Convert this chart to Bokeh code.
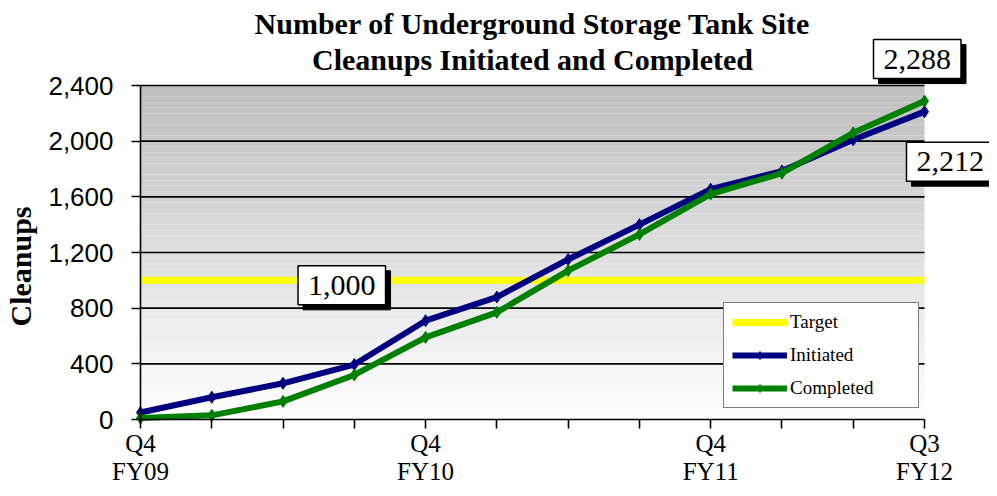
import math
import numpy as np
from bokeh.plotting import figure
from bokeh.models import Range1d, FixedTicker, Label, Legend
from bokeh.embed import file_html
from bokeh.resources import INLINE

# ---- data ----
quarters = ["Q4\nFY09", "Q1\nFY10", "Q2\nFY10", "Q3\nFY10", "Q4\nFY10", "Q1\nFY11",
            "Q2\nFY11", "Q3\nFY11", "Q4\nFY11", "Q1\nFY12", "Q2\nFY12", "Q3\nFY12"]
shown_labels = [0, 4, 8, 11]
initiated = [50, 160, 260, 395, 710, 880, 1150, 1400, 1655, 1785, 2010, 2212]
completed = [10, 30, 130, 320, 590, 770, 1070, 1330, 1620, 1770, 2060, 2288]
target = [1000] * len(quarters)
y_ticks = [0, 400, 800, 1200, 1600, 2000, 2400]
title_text = "Number of Underground Storage Tank Site\nCleanups Initiated and Completed"
y_title = "Cleanups"

x = list(range(len(quarters)))
n_last = len(quarters) - 1
y_max = y_ticks[-1]

SERIF = "Liberation Serif"
SANS = "Liberation Sans"

# ---- layout (pixels) ----
W, H = 989, 488
PX_LEFT, PX_RIGHT, PX_TOP, PX_BOTTOM = 140, 924, 85, 419   # plot-area box
sx = (PX_RIGHT - PX_LEFT) / n_last
sy = (PX_BOTTOM - PX_TOP) / y_max
x_range = Range1d(-PX_LEFT / sx, n_last + (W - PX_RIGHT) / sx)
y_range = Range1d(-(H - PX_BOTTOM) / sy, y_max + PX_TOP / sy)

p = figure(width=W, height=H, output_backend="svg", toolbar_location=None,
           title=None, x_range=x_range, y_range=y_range,
           min_border=0, min_border_left=0, min_border_right=0,
           min_border_top=0, min_border_bottom=0, outline_line_color=None,
           background_fill_color="white", border_fill_color="white")
p.xgrid.visible = False
p.ygrid.visible = False

# gradient plot-area background (style only)
n_bands = 60
edges = np.linspace(0, y_max, n_bands + 1)
cols = []
for i in range(n_bands):
    t = (i + 0.5) / n_bands
    v = int(round(255 - (255 - 190) * t))
    cols.append("#%02x%02x%02x" % (v, v, v))
p.quad(left=0, right=n_last, bottom=edges[:-1], top=edges[1:],
       fill_color=cols, line_color=None)

# horizontal grid lines
p.segment(x0=0, x1=n_last, y0=y_ticks[1:], y1=y_ticks[1:],
          line_color="black", line_width=1.6)

# series
r_t = p.line(x, target, line_color="#ffff00", line_width=7)
r_i = p.line(x, initiated, line_color="#000080", line_width=6)
s_i = p.scatter(x, initiated, marker="diamond", size=12, color="#000080")
r_c = p.line(x, completed, line_color="#008000", line_width=6)
s_c = p.scatter(x, completed, marker="diamond", size=12, color="#008000")

legend = Legend(items=[("Target", [r_t]), ("Initiated", [r_i, s_i]),
                       ("Completed", [r_c, s_c])],
                location=(723, H - 408), padding=8, spacing=11, glyph_width=55,
                glyph_height=20, label_height=20, label_standoff=3,
                label_width=120, margin=0,
                label_text_font=SERIF, label_text_font_size="19px",
                label_text_color="black",
                border_line_color="black", border_line_width=1.5,
                background_fill_color="white", background_fill_alpha=1)
p.add_layout(legend)

# axes
p.yaxis.fixed_location = 0
p.yaxis.bounds = (0, y_max)
p.yaxis.ticker = FixedTicker(ticks=y_ticks)
p.yaxis.major_label_overrides = {t: f"{t:,}" for t in y_ticks}
p.yaxis.major_label_text_font = SANS
p.yaxis.major_label_text_font_size = "26px"
p.yaxis.major_label_text_color = "black"
p.yaxis.major_tick_out = 9
p.yaxis.major_tick_in = 0
p.yaxis.minor_tick_line_color = None
p.yaxis.axis_line_color = "black"
p.yaxis.axis_line_width = 1.6
p.yaxis.major_tick_line_width = 1.6
p.yaxis.major_label_standoff = 18

p.xaxis.fixed_location = 0
p.xaxis.bounds = (0, n_last)
p.xaxis.ticker = FixedTicker(ticks=x)
p.xaxis.major_label_overrides = {i: (quarters[i] if i in shown_labels else "") for i in x}
p.xaxis.major_label_text_font = SERIF
p.xaxis.major_label_text_font_size = "25px"
p.xaxis.major_label_text_color = "black"
p.xaxis.major_label_text_line_height = 1.05
p.xaxis.major_tick_out = 9
p.xaxis.major_tick_in = 0
p.xaxis.minor_tick_line_color = None
p.xaxis.axis_line_color = "black"
p.xaxis.axis_line_width = 1.6
p.xaxis.major_tick_line_width = 1.6
p.xaxis.major_label_standoff = 1

# chart title and axis title
p.add_layout(Label(x=n_last / 2, y=y_max, y_offset=44, text=title_text,
                   text_font=SERIF, text_font_size="30px", text_font_style="bold",
                   text_align="center", text_baseline="middle",
                   text_line_height=1.1, text_color="black"))
p.add_layout(Label(x=0, y=y_max / 2, x_offset=-120, y_offset=-14, text=y_title,
                   angle=math.pi / 2, text_font=SERIF, text_font_size="30px",
                   text_font_style="bold", text_align="center",
                   text_baseline="middle", text_color="black"))

# value callouts (with drop shadow)
def callout(xv, yv, text, dx, dy):
    common = dict(x=xv, y=yv, text=text, text_font=SERIF, text_font_size="30px",
                  text_align="left", text_baseline="middle", padding=10)
    p.add_layout(Label(x_offset=dx + 5, y_offset=dy - 5, text_color="black",
                       background_fill_color="black", border_line_color="black",
                       **common))
    p.add_layout(Label(x_offset=dx, y_offset=dy, text_color="black",
                       background_fill_color="white", border_line_color="black",
                       border_line_width=1.5, **common))

callout(2, target[2], f"{target[2]:,}", 15, -5)
callout(n_last, completed[-1], f"{completed[-1]:,}", -51, 42)
callout(n_last, initiated[-1], f"{initiated[-1]:,}", -18, -50)

open("out.html", "w").write(file_html(p, INLINE))
